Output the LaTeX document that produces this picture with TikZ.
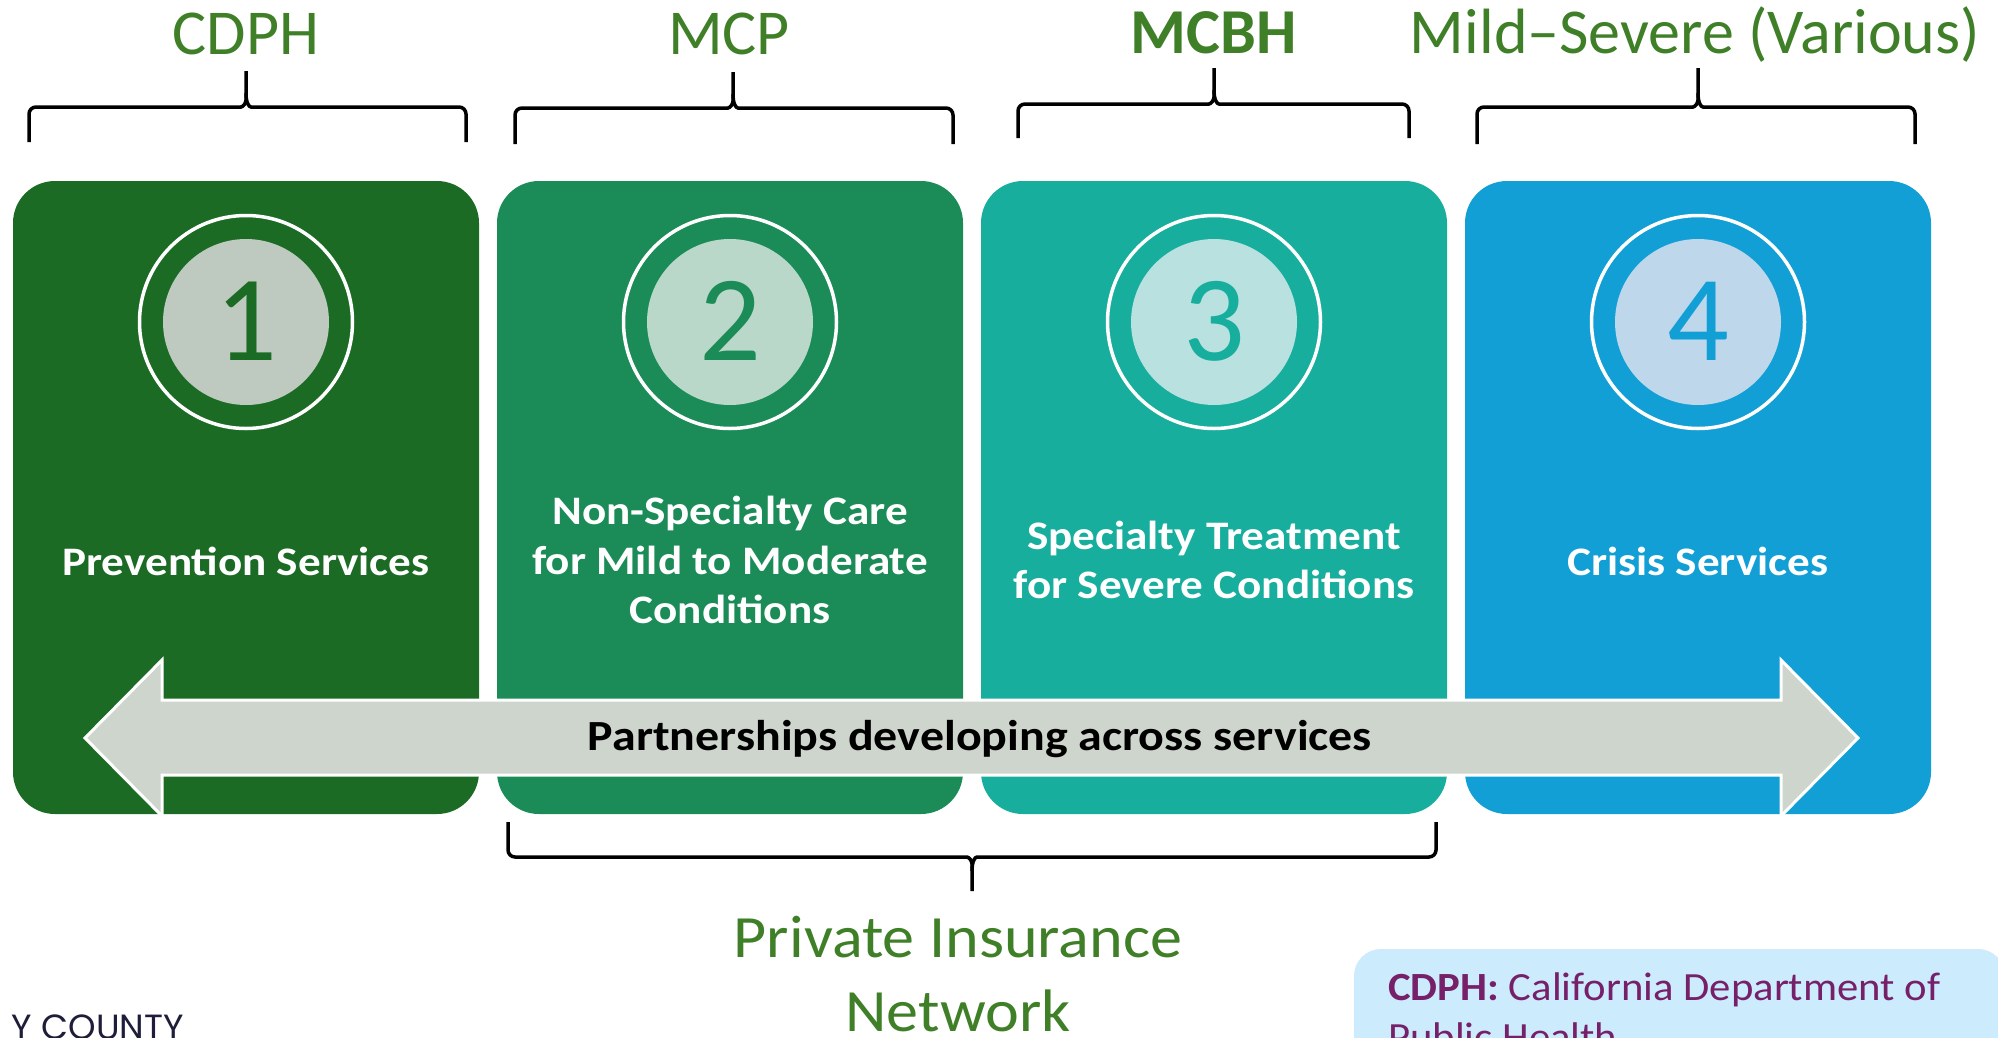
\documentclass[tikz,border=0pt]{standalone}
\usepackage{fontspec}
\setmainfont{Carlito}
\newfontfamily\wideface[FakeStretch=1.115]{Carlito}
\newfontfamily\midface[FakeStretch=1.068]{Carlito}
\newfontfamily\logofont{Poppins}

\definecolor{boxone}{HTML}{1B6B25}
\definecolor{boxtwo}{HTML}{1B8C57}
\definecolor{boxthree}{HTML}{17AE9E}
\definecolor{boxfour}{HTML}{129FD6}
\definecolor{discone}{HTML}{BEC9BF}
\definecolor{disctwo}{HTML}{BAD8CA}
\definecolor{discthree}{HTML}{B8E1E0}
\definecolor{discfour}{HTML}{BED7EB}
\definecolor{labelgreen}{HTML}{3F7F27}
\definecolor{arrowgrey}{HTML}{CED5CD}
\definecolor{legendblue}{HTML}{CCEBFC}
\definecolor{legendpurple}{HTML}{76206A}
\definecolor{logonavy}{HTML}{1E1E3A}

\tikzset{
  svcbox/.style={rectangle, rounded corners=42pt, minimum width=466pt, minimum height=633pt, inner sep=0pt},
  ring/.style={circle, draw=white, line width=3.5pt, minimum size=213pt, inner sep=0pt},
  disc/.style={circle, minimum size=166pt, inner sep=0pt},
  digit/.style={font=\fontsize{122}{146}\selectfont, inner sep=0pt, anchor=base},
  svctext/.style={text=white, font=\wideface\fontsize{40.5}{49.5}\selectfont\bfseries, align=center, inner sep=0pt},
  payer/.style={text=labelgreen, font=\fontsize{64}{77}\selectfont, inner sep=0pt, anchor=base},
  bracestyle/.style={line width=3.5pt, rounded corners=7pt}
}

% x1, middle, x2, end y, line y, tip y, direction
\newcommand{\curlybrace}[7]{%
  \draw[bracestyle] (#1,#4) -- (#1,#5) -- ({#2-12},#5) .. controls ({#2-3},#5) and (#2,{#5-#7*4}) .. (#2,{#5-#7*14}) -- (#2,#6);
  \draw[bracestyle] (#3,#4) -- (#3,#5) -- ({#2+12},#5) .. controls ({#2+3},#5) and (#2,{#5-#7*4}) .. (#2,{#5-#7*14});
}

\begin{document}
\begin{tikzpicture}[x=1pt,y=-1pt]
  \path[use as bounding box, clip] (0,0) rectangle (1998,1037);
  \fill[white] (0,0) rectangle (1998,1037);

  % payers on top
  \node[payer] (cdph) at (246,54) {CDPH};
  \node[payer] (mcp) at (729,54) {MCP};
  \node[payer, font=\fontsize{64}{77}\selectfont\bfseries] (mcbh) at (1214,53) {MCBH};
  \node[payer] (various) at (1695,53) {Mild–Severe (Various)};
  \curlybrace{29}{246}{466}{142}{107}{71}{1}
  \curlybrace{515}{733}{953}{144}{108}{72}{1}
  \curlybrace{1018}{1214}{1409}{138}{104}{68}{1}
  \curlybrace{1477}{1698}{1915}{144}{107}{68}{1}

  % the four service boxes
  \foreach \n/\cx/\boxcol/\disccol in {1/246/boxone/discone, 2/730/boxtwo/disctwo,
      3/1214/boxthree/discthree, 4/1698/boxfour/discfour} {
    \node[svcbox, fill=\boxcol] (box\n) at (\cx,497.5) {};
    \node[ring] (ring\n) at (\cx,322) {};
    \node[disc, fill=\disccol] (disc\n) at (\cx,322) {};
    \node[digit, text=\boxcol] (num\n) at (\cx,360) {\n};
  }
  \node[svctext] (txt1) at (246,561) {Prevention Services};
  \node[svctext] (txt2) at (730,560) {Non-Specialty Care\\for Mild to Moderate\\Conditions};
  \node[svctext] (txt3) at (1214,560) {Specialty Treatment\\for Severe Conditions};
  \node[svctext] (txt4) at (1698,561) {Crisis Services};

  % partnership arrow
  \filldraw[fill=arrowgrey, draw=white, line width=3pt]
    (85,738) -- (162,660) -- (162,700) -- (1781,700) -- (1781,660) -- (1858,738)
    -- (1781,816) -- (1781,775) -- (162,775) -- (162,816) -- cycle;
  \node[anchor=base, inner sep=0pt, font=\wideface\fontsize{43}{52}\selectfont\bfseries] (partner) at (980,750)
    {Partnerships developing across services};

  % private insurance
  \curlybrace{508}{972}{1436}{822}{857}{891}{-1}
  \node[payer, anchor=center, align=center, font=\midface\fontsize{60}{74}\selectfont] (private) at (958,974)
    {Private Insurance\\Network};

  % footer
  \node[anchor=base east, inner sep=0pt, text=logonavy, font=\logofont\fontsize{35}{42}\selectfont] (county) at (184,1039) {Y COUNTY};
  \fill[legendblue, rounded corners=27pt] (1354,949) rectangle (2005,1100);
  \node[anchor=north west, inner sep=0pt, align=left, text=legendpurple, font=\midface\fontsize{40}{50}\selectfont] (abbr) at (1388,973)
    {\textbf{CDPH:} California Department of\\Public Health};
\end{tikzpicture}
\end{document}
